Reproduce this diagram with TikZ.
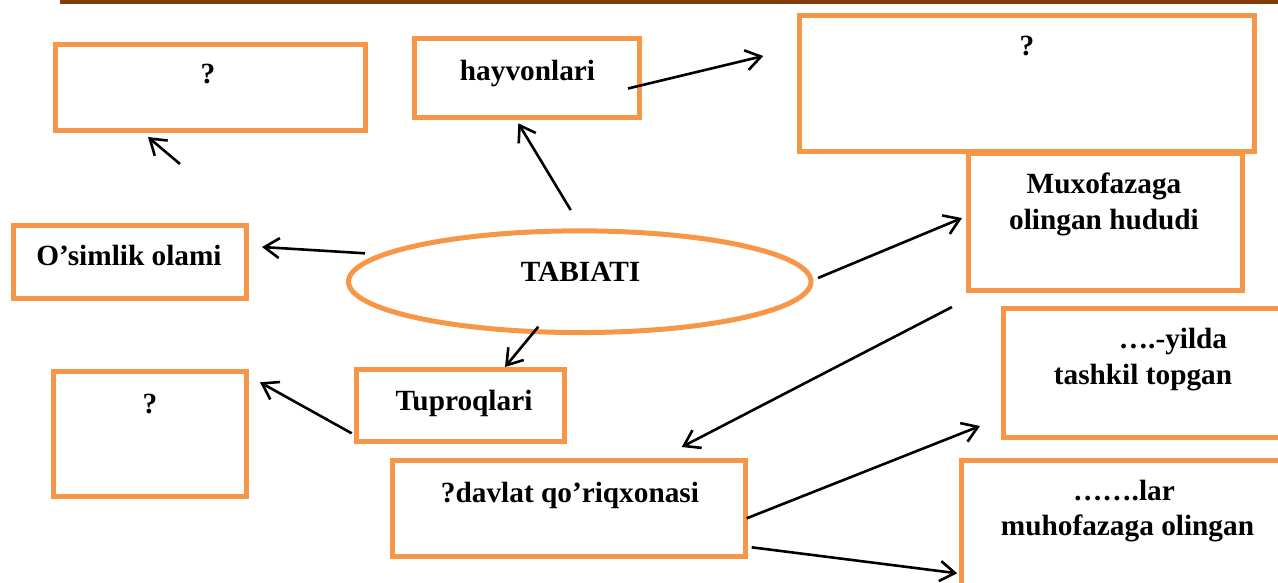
\documentclass[tikz,border=0pt]{standalone}
\usepackage{fontspec}
\setmainfont{Liberation Serif}
\usetikzlibrary{arrows.meta,shapes.geometric}
\definecolor{boxorange}{HTML}{F79646}
\definecolor{barbrown}{HTML}{843C0C}
\begin{document}
\begin{tikzpicture}[x=1pt,y=-1pt,
  box/.style={draw=boxorange,line width=5pt,rectangle,inner sep=0pt,fill=white},
  oval/.style={draw=boxorange,line width=5pt,ellipse,inner sep=0pt},
  txt/.style={anchor=base,inner sep=0pt,font=\fontsize{29.3}{35}\selectfont\bfseries},
  conn/.style={line width=2.6pt,-{Straight Barb[length=15pt,width=20pt,line width=2.6pt]}}]
\useasboundingbox (0,0) rectangle (1278,582);
\clip (0,0) rectangle (1278,582);
\fill[barbrown] (60,0) rectangle (1278,4);
% boxes
\node[box,minimum width=310pt,minimum height=86pt] (q1) at (210,87) {};
\node[box,minimum width=233pt,minimum height=73pt] (osim) at (129.5,261.5) {};
\node[box,minimum width=225pt,minimum height=79.5pt] (hayv) at (527,77.75) {};
\node[box,minimum width=455pt,minimum height=136pt] (q2) at (1027,83.5) {};
\node[box,minimum width=274pt,minimum height=137pt] (muxo) at (1105.5,222) {};
\node[oval,minimum width=462.5pt,minimum height=101.7pt] (tab) at (579.75,281.7) {};
\node[box,minimum width=208pt,minimum height=71.7pt] (tupr) at (460.5,405.6) {};
\node[box,minimum width=193pt,minimum height=124.7pt] (q3) at (150,434.1) {};
\node[box,minimum width=353pt,minimum height=96pt] (davl) at (569,508.5) {};
\node[box,minimum width=286.5pt,minimum height=128.5pt] (yil) at (1146.75,372.75) {};
\node[box,minimum width=329pt,minimum height=139.5pt] (lar) at (1126,530.25) {};
% texts
\node[txt] (tq1) at (208,83) {?};
\node[txt] (tosim) at (129,265) {O’simlik olami};
\node[txt] (thayv) at (527.5,80) {hayvonlari};
\node[txt] (tq2) at (1027,55) {?};
\node[txt] (tmuxo1) at (1104,193) {Muxofazaga};
\node[txt] (tmuxo2) at (1104,229) {olingan hududi};
\node[txt] (ttab) at (580.5,281.7) {TABIATI};
\node[txt] (ttupr) at (464,410) {Tuproqlari};
\node[txt] (tq3) at (150,413) {?};
\node[txt] (tdavl) at (570,502.7) {?davlat qo’riqxonasi};
\node[txt] (tyil1) at (1173,348) {….-yilda};
\node[txt] (tyil2) at (1143,384) {tashkil topgan};
\node[txt] (tlar1) at (1124,500) {…….lar};
\node[txt] (tlar2) at (1127.5,535.5) {muhofazaga olingan};
% connector end points
\coordinate (a1s) at (180,164); \coordinate (a1e) at (148,137);
\coordinate (a2s) at (365,253.3); \coordinate (a2e) at (262,247);
\coordinate (a3s) at (570.7,210); \coordinate (a3e) at (518.3,123.3);
\coordinate (a4s) at (628,88.5);  \coordinate (a4e) at (763.3,56);
\coordinate (a5s) at (818,278); \coordinate (a5e) at (962,218);
\coordinate (a6s) at (538.3,326.7); \coordinate (a6e) at (505,367);
\coordinate (a7s) at (351.7,433.3); \coordinate (a7e) at (260,382.3);
\coordinate (a8s) at (952,307); \coordinate (a8e) at (681.7,447);
\coordinate (a9s) at (746.7,518.3); \coordinate (a9e) at (980,426);
\coordinate (a10s) at (751.7,547.3); \coordinate (a10e) at (957.3,573.3);
\foreach \i in {1,...,10} \draw[conn] (a\i s) -- (a\i e);
\end{tikzpicture}
\end{document}
